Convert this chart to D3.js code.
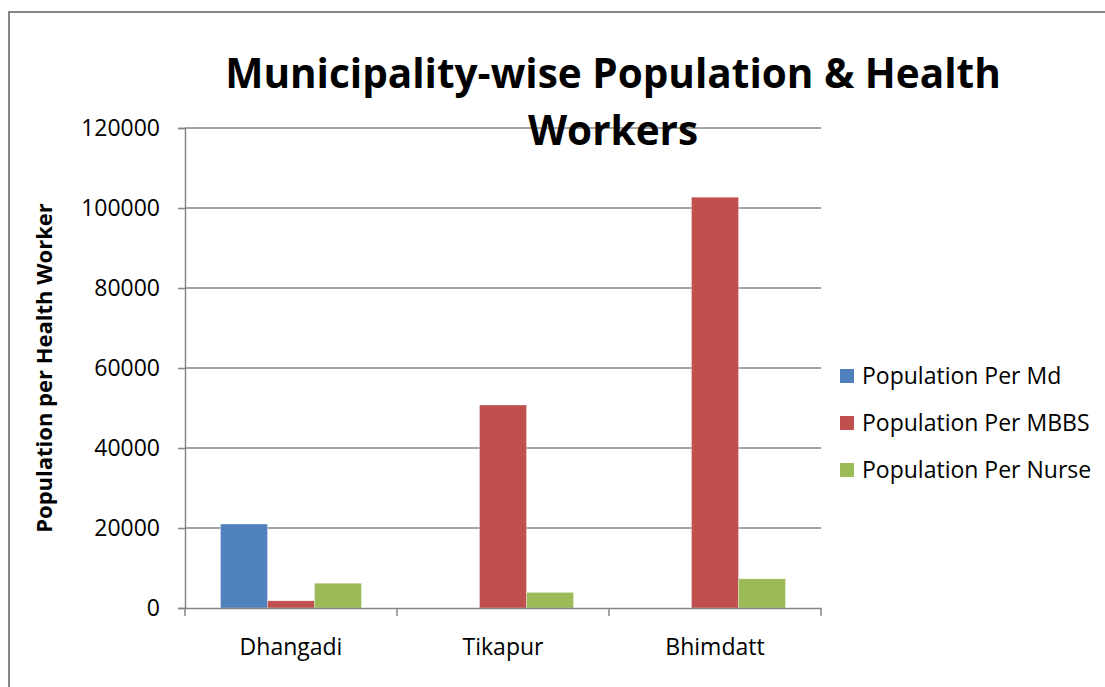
<!DOCTYPE html>
<html>
<head>
<meta charset="utf-8">
<script src="https://cdn.jsdelivr.net/npm/d3@7"></script>
<style>
  body { margin: 0; background: #fff; }
  text { font-family: "Open Sans", "Noto Sans", sans-serif; fill: #000; }
</style>
</head>
<body>
<div class="content-container"></div>
<script>
const municipalities = ["Dhangadi", "Tikapur", "Bhimdatt"];
const seriesNames = ["Population Per Md", "Population Per MBBS", "Population Per Nurse"];
const perMd = [21000, 0, 0];
const perMbbs = [1800, 50750, 102700];
const perNurse = [6200, 3900, 7300];
const seriesColors = ["#4F81BD", "#C0504D", "#9BBB59"];
const yTicks = [0, 20000, 40000, 60000, 80000, 100000, 120000];

const width = 1105;
const height = 687;
const plotLeft = 185, plotRight = 821, plotTop = 128, plotBottom = 608;

const values = [perMd, perMbbs, perNurse];

const svg = d3.select(".content-container")
  .append("svg")
  .attr("width", width)
  .attr("height", height);

// outer chart border
svg.append("rect")
  .attr("x", 9).attr("y", 12)
  .attr("width", 1110).attr("height", 700)
  .attr("fill", "#fff")
  .attr("stroke", "#868686")
  .attr("stroke-width", 2);

const x0 = d3.scaleBand()
  .domain(municipalities)
  .range([plotLeft, plotRight])
  .padding(0);

const bw = x0.bandwidth();
const x1 = d3.scaleBand()
  .domain(seriesNames)
  .range([bw * 0.1675, bw * 0.8325])
  .padding(0);

const y = d3.scaleLinear()
  .domain([0, 120000])
  .range([plotBottom, plotTop]);

// gridlines
svg.append("g")
  .selectAll("line")
  .data(yTicks.filter(d => d > 0))
  .enter()
  .append("line")
  .attr("x1", plotLeft).attr("x2", plotRight)
  .attr("y1", d => y(d)).attr("y2", d => y(d))
  .attr("stroke", "#868686")
  .attr("stroke-width", 1.5);

// bars
const groups = svg.append("g")
  .selectAll("g")
  .data(municipalities)
  .enter()
  .append("g")
  .attr("transform", d => "translate(" + x0(d) + ",0)");

groups.selectAll("rect")
  .data((m, i) => seriesNames.map((s, j) => ({ s: s, v: values[j][i], c: seriesColors[j] })))
  .enter()
  .append("rect")
  .filter(d => d.v > 0)
  .attr("x", d => x1(d.s))
  .attr("width", x1.bandwidth())
  .attr("y", d => y(d.v))
  .attr("height", d => plotBottom - y(d.v))
  .attr("fill", d => d.c)
  .attr("stroke", "rgba(255,255,255,0.5)")
  .attr("stroke-width", 0.6);

// y axis
const yAxis = d3.axisLeft(y).tickValues(yTicks).tickSize(7).tickPadding(18).tickFormat(d3.format("d"));
const gy = svg.append("g")
  .attr("transform", "translate(" + plotLeft + ",0)")
  .call(yAxis);
gy.select(".domain").attr("stroke", "#868686").attr("stroke-width", 1.5);
gy.selectAll(".tick line").attr("stroke", "#868686").attr("stroke-width", 1.5);
gy.selectAll(".tick text")
  .style("font-size", "23px")
  .attr("fill", "#000");

// x axis
const xAxis = d3.axisBottom(x0).tickSize(0).tickPadding(31);
const gx = svg.append("g")
  .attr("transform", "translate(0," + plotBottom + ")")
  .call(xAxis);
gx.select(".domain").attr("stroke", "#868686").attr("stroke-width", 1.5);
gx.selectAll(".tick text").style("font-size", "23px").attr("fill", "#000");

// category boundary ticks
svg.append("g")
  .selectAll("line")
  .data(municipalities.map(d => x0(d)).concat([plotRight]))
  .enter()
  .append("line")
  .attr("x1", d => d).attr("x2", d => d)
  .attr("y1", plotBottom).attr("y2", plotBottom + 8)
  .attr("stroke", "#868686")
  .attr("stroke-width", 1.5);

// axis title
svg.append("text")
  .attr("transform", "translate(52," + 368 + ") rotate(-90)")
  .attr("text-anchor", "middle")
  .style("font-size", "22px")
  .style("font-weight", "bold")
  .text("Population per Health Worker");

// chart title
svg.append("text")
  .attr("x", 613).attr("y", 88)
  .attr("text-anchor", "middle")
  .style("font-size", "40.5px")
  .style("font-weight", "bold")
  .text("Municipality-wise Population & Health");

svg.append("text")
  .attr("x", 613).attr("y", 145)
  .attr("text-anchor", "middle")
  .style("font-size", "40.5px")
  .style("font-weight", "bold")
  .text("Workers");

// legend
const legend = svg.append("g")
  .selectAll("g")
  .data(seriesNames)
  .enter()
  .append("g")
  .attr("transform", (d, i) => "translate(840," + (376 + i * 47) + ")");

legend.append("rect")
  .attr("x", 0).attr("y", -7)
  .attr("width", 14).attr("height", 14)
  .attr("fill", (d, i) => seriesColors[i]);

legend.append("text")
  .attr("x", 22).attr("y", 8)
  .style("font-size", "23px")
  .text(d => d);
</script>
</body>
</html>
